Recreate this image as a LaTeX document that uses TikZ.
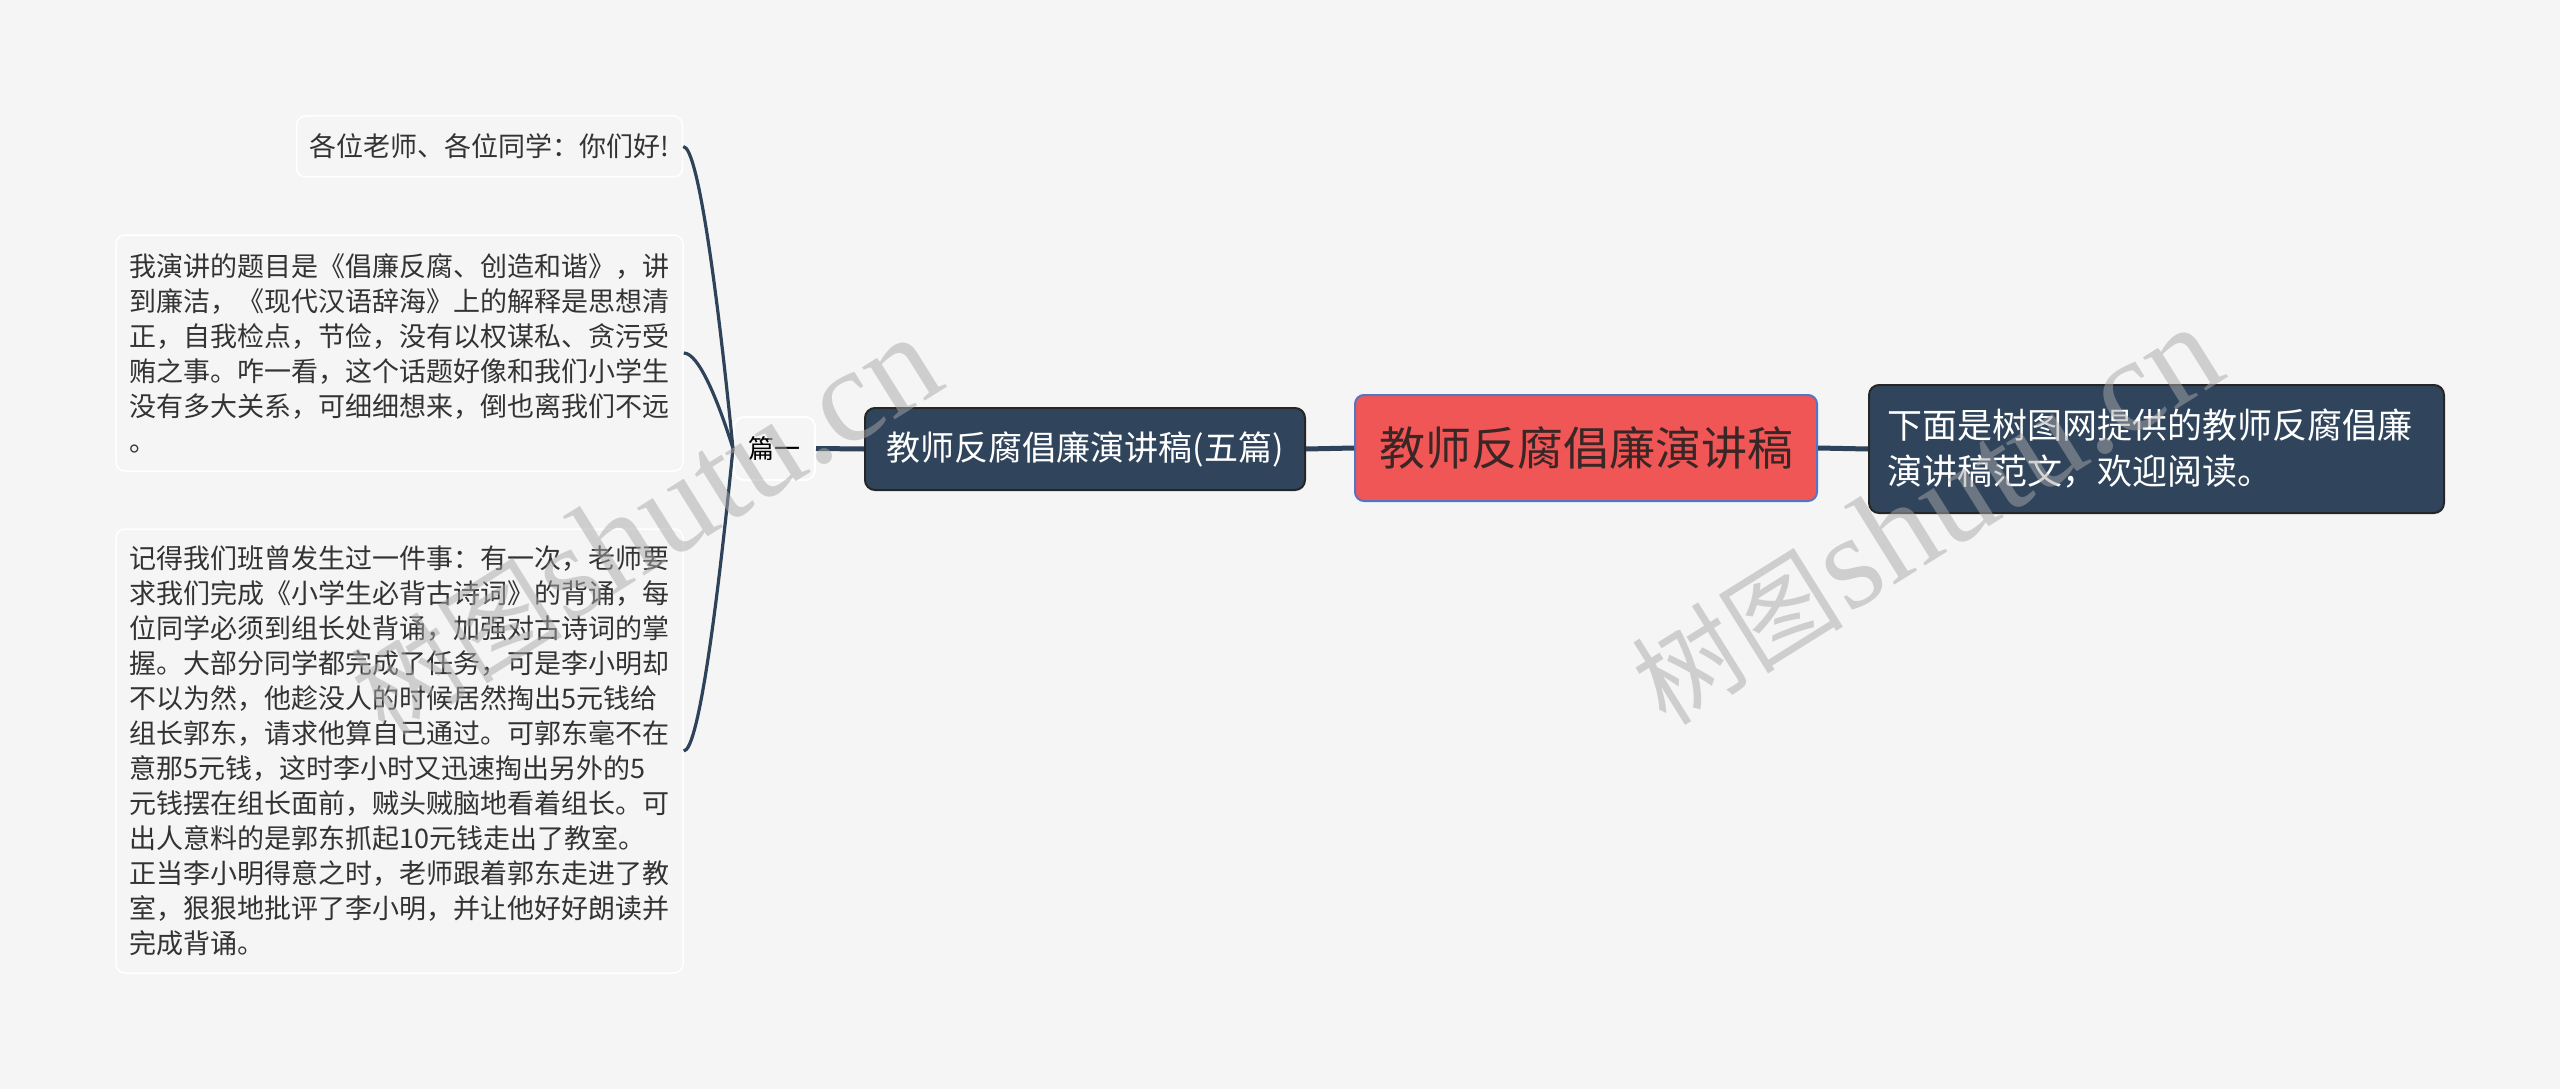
\documentclass[tikz,border=0pt]{standalone}
\usepackage{fontspec}
\setmainfont{Noto Sans CJK SC}
\newfontfamily\wmcjk{Noto Sans CJK SC}
\newfontfamily\wmlat{Liberation Serif}
\definecolor{bgc}{HTML}{F5F5F5}
\definecolor{darkc}{HTML}{30455C}
\definecolor{linec}{HTML}{2E4259}
\definecolor{rootc}{HTML}{F05656}
\definecolor{rootb}{HTML}{5574C4}
\definecolor{txtc}{HTML}{333333}
\definecolor{roottxt}{HTML}{3B2626}
\definecolor{wmc}{HTML}{A8A8A8}
\tikzset{
  rootbox/.style={draw=rootb, line width=2pt, fill=rootc, rounded corners=9pt, text=roottxt,
    minimum width=462pt, minimum height=106pt, inner sep=0pt, font=\fontsize{46}{56}\selectfont},
  darkbox/.style={draw=black!85, line width=2pt, fill=darkc, rounded corners=10pt, text=white, inner sep=0pt},
  descbox/.style={darkbox, text width=539pt, inner xsep=18pt, align=left, minimum height=128pt,
    font=\fontsize{35}{46}\selectfont},
  pianbox/.style={draw=white, line width=2pt, fill=bgc, rounded corners=10pt, text=black,
    minimum width=81pt, minimum height=63pt, inner sep=0pt, font=\fontsize{26}{32}\selectfont},
  leafbox/.style={draw=white, line width=1.5pt, fill=bgc, rounded corners=9pt, text=txtc,
    font=\fontsize{27}{35}\selectfont},
  leafpara/.style={leafbox, text width=540pt, inner xsep=13.5pt, align=left},
  conn/.style={draw=linec, line width=5pt},
  conncurve/.style={draw=linec, line width=3.2pt},
  wmark/.style={text=wmc, opacity=0.5, inner sep=0pt}
}
\begin{document}
\begin{tikzpicture}[x=1pt,y=-1pt]
\useasboundingbox (0,0) rectangle (2560,1089);
\fill[bgc] (0,0) rectangle (2560,1089);

\node[rootbox] (root) at (1586,448) {教师反腐倡廉演讲稿};
\node[darkbox, minimum width=440pt, minimum height=82pt, font=\fontsize{34}{40}\selectfont] (l1) at (1085,449) {教师反腐倡廉演讲稿(五篇)};
\node[descbox] (desc) at (2156.5,449) {下面是树图网提供的教师反腐倡廉\\演讲稿范文，欢迎阅读。};
\node[pianbox] (p1) at (774.5,448.5) {篇一};

\node[leafbox, minimum width=386pt, minimum height=61pt, inner sep=0pt] (a) at (489.5,146.5) {各位老师、各位同学：你们好!};
\node[leafpara, minimum height=236pt] (b) at (399.5,353) {我演讲的题目是《倡廉反腐、创造和谐》，讲\\到廉洁，《现代汉语辞海》上的解释是思想清\\正，自我检点，节俭，没有以权谋私、贪污受\\贿之事。咋一看，这个话题好像和我们小学生\\没有多大关系，可细细想来，倒也离我们不远\\。};
\node[leafpara, minimum height=444pt] (c) at (399.5,751) {记得我们班曾发生过一件事：有一次，老师要\\求我们完成《小学生必背古诗词》的背诵，每\\位同学必须到组长处背诵，加强对古诗词的掌\\握。大部分同学都完成了任务，可是李小明却\\不以为然，他趁没人的时候居然掏出5元钱给\\组长郭东，请求他算自己通过。可郭东毫不在\\意那5元钱，这时李小时又迅速掏出另外的5\\元钱摆在组长面前，贼头贼脑地看着组长。可\\出人意料的是郭东抓起10元钱走出了教室。\\正当李小明得意之时，老师跟着郭东走进了教\\室，狠狠地批评了李小明，并让他好好朗读并\\完成背诵。};

\draw[conn] (root.east) -- (desc.west);
\draw[conn] (l1.east) -- (root.west);
\draw[conn] (p1.east) -- (l1.west);
\draw[conncurve] (a.east) .. controls +(15,0) and +(-15,-151) .. (p1.west);
\draw[conncurve] (b.east) .. controls +(15,0) and +(-15,-48) .. (p1.west);
\draw[conncurve] (c.east) .. controls +(15,0) and +(-15,151) .. (p1.west);

\node[wmark, rotate=32] (wm1) at (645,526) {{\wmcjk\fontsize{106}{120}\selectfont 树图} {\wmlat\fontsize{134}{150}\selectfont shutu.cn}};
\node[wmark, rotate=32] (wm2) at (1926,516) {{\wmcjk\fontsize{106}{120}\selectfont 树图} {\wmlat\fontsize{134}{150}\selectfont shutu.cn}};
\end{tikzpicture}
\end{document}
